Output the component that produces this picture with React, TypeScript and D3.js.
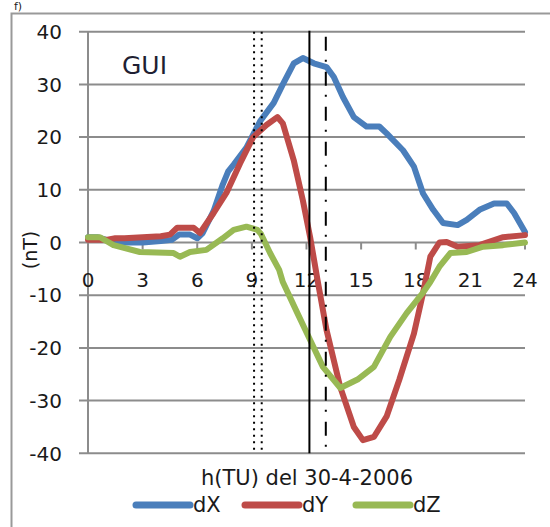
import * as d3 from 'd3'

// readings, hours in TU
const dxHours = [0, 0.5, 1, 1.5, 2, 3, 4, 4.6, 5, 5.6, 6, 6.3, 6.9, 7.4, 7.7, 8.0, 8.7, 9.45, 10.2, 10.7, 11.3, 11.8, 12.4, 13.1, 13.5, 14.0, 14.6, 15.3, 16.0, 16.4, 17.3, 17.9, 18.4, 18.96, 19.5, 20.3, 20.8, 21.5, 22.3, 23.0, 23.4, 24]
const dxValues = [1, 1, 0.5, 0.3, 0, 0, 0.3, 0.5, 1.5, 1.5, 0.8, 1.8, 6, 11, 13.5, 14.8, 18, 23, 26.5, 30, 34, 35, 34, 33.3, 31.4, 27.6, 23.8, 22, 22, 20.7, 17.5, 14.4, 9.3, 6.2, 3.7, 3.3, 4.3, 6.2, 7.4, 7.4, 5.6, 2]

const dyHours = [0, 1, 1.5, 2, 3, 4, 4.5, 4.9, 5.8, 6.15, 6.9, 7.6, 8.35, 9.07, 9.8, 10.4, 10.7, 11.3, 11.8, 12.2, 12.6, 13.1, 13.85, 14.6, 15.1, 15.7, 16.4, 17.1, 17.9, 18.4, 18.8, 19.3, 19.7, 20.3, 21.5, 21.9, 22.8, 24]
const dyValues = [0.5, 0.5, 0.8, 0.8, 1, 1.2, 1.5, 2.8, 2.8, 1.8, 5.6, 9.4, 15, 20, 22.3, 23.8, 22.6, 15.6, 8, 1, -7, -16.6, -27.4, -35, -37.5, -36.9, -33, -26, -17.3, -9.6, -2.7, 0, 0.1, -0.8, -0.5, 0, 1, 1.4]

const dzHours = [0, 0.66, 1.4, 2.85, 4.7, 5.05, 5.6, 6.5, 7.4, 8.0, 8.7, 9.3, 9.5, 10.0, 10.5, 10.7, 11.5, 12.2, 12.9, 13.85, 14.8, 15.7, 16.6, 17.5, 18.4, 18.8, 19.3, 19.9, 20.8, 21.7, 22.8, 24]
const dzValues = [1, 1, -0.5, -1.8, -2, -2.7, -1.8, -1.4, 0.8, 2.4, 3, 2.4, 1.6, -2, -5.2, -7.5, -13.4, -18.5, -23.6, -27.6, -26, -23.6, -17.9, -13.4, -9.5, -7.5, -4.6, -2, -1.8, -0.8, -0.5, 0]

const seriesNames = ['dX', 'dY', 'dZ']
const seriesColors = ['#4a7ebb', '#be4b48', '#98b954']

const xTicks = [0, 3, 6, 9, 12, 15, 18, 21, 24]
const yTicks = [40, 30, 20, 10, 0, -10, -20, -30, -40]

// event markers (hours)
const dottedHours = [9.12, 9.54]
const solidHour = 12.16
const dashDotHour = 13.06

const panelLabel = 'f)'
const stationLabel = 'GUI'
const xTitle = 'h(TU) del 30-4-2006'
const yTitle = '(nT)'

export default function App() {
  const width = 550
  const height = 527
  const font = 'DejaVu Sans, sans-serif'

  const x = d3.scaleLinear().domain([0, 24]).range([88, 525])
  const y = d3.scaleLinear().domain([-40, 40]).range([453.3, 31.7])

  const series = [
    dxHours.map((h, i) => [h, dxValues[i]]),
    dyHours.map((h, i) => [h, dyValues[i]]),
    dzHours.map((h, i) => [h, dzValues[i]]),
  ]
  const line = d3.line<number[]>()
    .x(d => x(d[0]))
    .y(d => y(d[1]))

  const legendX = [133, 242, 353]

  return (
    <svg width={width} height={height} style={{ position: 'absolute', left: 0, top: 0, background: '#fff' }}>
      <text x={14} y={10} fontFamily={font} fontSize={11} fill="#222">{panelLabel}</text>
      {/* outer frame */}
      <path d={`M11.5,${height} V13.5 H${width}`} fill="none" stroke="#999" strokeWidth={2} />

      {/* grid */}
      {yTicks.map(t => (
        <line key={t} x1={79} x2={x(24)} y1={y(t)} y2={y(t)} stroke="#8c8c8c" strokeWidth={2} />
      ))}
      <line x1={x(0)} x2={x(0)} y1={y(40)} y2={y(-40)} stroke="#8c8c8c" strokeWidth={2} />
      {xTicks.map(t => (
        <line key={t} x1={x(t)} x2={x(t)} y1={y(0)} y2={y(0) + 7} stroke="#8c8c8c" strokeWidth={2} />
      ))}

      {/* tick labels */}
      {yTicks.map(t => (
        <text key={t} x={62} y={y(t)} dy="0.36em" textAnchor="end" fontFamily={font} fontSize={20} fill="#1a1a1a">{t}</text>
      ))}
      {xTicks.map(t => (
        <text key={t} x={x(t)} y={287} textAnchor="middle" fontFamily={font} fontSize={20} fill="#1a1a1a">{t}</text>
      ))}

      {/* series */}
      {series.map((s, i) => (
        <path key={i} d={line(s) ?? ''} fill="none" stroke={seriesColors[i]} strokeWidth={6} strokeLinejoin="round" strokeLinecap="round" />
      ))}

      {/* event markers */}
      {dottedHours.map(h => (
        <line key={h} x1={x(h)} x2={x(h)} y1={y(40)} y2={y(-40)} stroke="#000" strokeWidth={2} strokeDasharray="2,4.5" />
      ))}
      <line x1={x(solidHour)} x2={x(solidHour)} y1={y(40) - 1} y2={y(-40)} stroke="#000" strokeWidth={2} />
      <line x1={x(dashDotHour)} x2={x(dashDotHour)} y1={y(40) + 5} y2={y(-40)} stroke="#000" strokeWidth={2} strokeDasharray="14,9,2,10" />

      <text x={122} y={74} fontFamily={font} fontSize={25} fill="#1f1f33">{stationLabel}</text>
      <text x={30} y={250} transform="rotate(-90 30 250)" textAnchor="middle" dy="0.36em" fontFamily={font} fontSize={19} fill="#1a1a1a">{yTitle}</text>
      <text x={307} y={485} textAnchor="middle" fontFamily={font} fontSize={21} fill="#1a1a1a">{xTitle}</text>

      {/* legend */}
      {seriesNames.map((n, i) => (
        <g key={n}>
          <line x1={legendX[i] + 3} x2={legendX[i] + 57} y1={505} y2={505} stroke={seriesColors[i]} strokeWidth={7} strokeLinecap="round" />
          <text x={legendX[i] + 60} y={512} fontFamily={font} fontSize={21} fill="#1a1a1a">{n}</text>
        </g>
      ))}
    </svg>
  )
}
